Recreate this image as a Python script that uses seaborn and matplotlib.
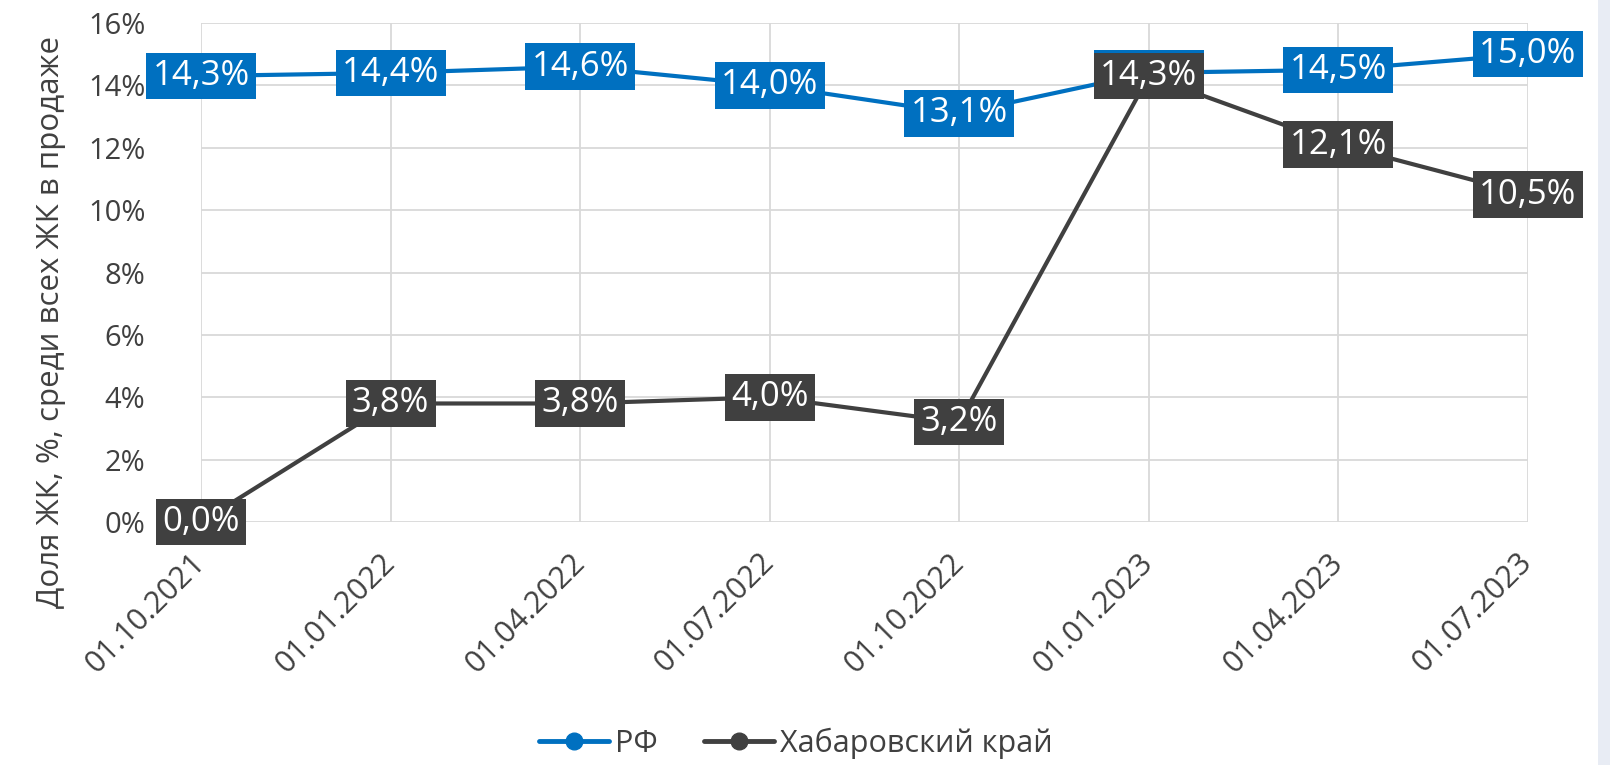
import matplotlib
matplotlib.use("Agg")
import matplotlib.pyplot as plt
from matplotlib.lines import Line2D
from matplotlib.patches import Rectangle
import seaborn as sns
import pandas as pd

dates = ["01.10.2021", "01.01.2022", "01.04.2022", "01.07.2022",
         "01.10.2022", "01.01.2023", "01.04.2023", "01.07.2023"]
rf_values = [14.3, 14.4, 14.6, 14.0, 13.1, 14.4, 14.5, 15.0]
khab_values = [0.0, 3.8, 3.8, 4.0, 3.2, 14.3, 12.1, 10.5]
series_names = ["РФ", "Хабаровский край"]
y_ticks = [0, 2, 4, 6, 8, 10, 12, 14, 16]
y_label = "Доля ЖК, %, среди всех ЖК в продаже"

colors = {"РФ": "#0070C0", "Хабаровский край": "#404040"}
text_color = "#404040"

df = pd.DataFrame({
    "date": dates * 2,
    "value": rf_values + khab_values,
    "series": [series_names[0]] * len(dates) + [series_names[1]] * len(dates),
})

sns.set_theme(style="white")
plt.rcParams["font.family"] = ["Open Sans", "DejaVu Sans"]

fig = plt.figure(figsize=(16.1, 7.65), dpi=100)
ax = fig.add_axes([201 / 1610, 1 - 522 / 765, (1528 - 201) / 1610, (522 - 23) / 765])

sns.lineplot(data=df, x="date", y="value", hue="series", palette=colors,
             sort=False, linewidth=3, ax=ax, legend=False, zorder=3)

ax.set_xlim(0, len(dates) - 1)
ax.set_ylim(0, 16)
ax.set_yticks(y_ticks)
ax.set_yticklabels([f"{t}%" for t in y_ticks])
ax.set_xticks(range(len(dates)))
ax.set_xticklabels(dates, rotation=45, ha="right", va="center", rotation_mode="anchor")

ax.grid(True, color="#D9D9D9", linewidth=1.3, zorder=0)
ax.set_axisbelow(True)
for s in ax.spines.values():
    s.set_visible(False)

ax.tick_params(axis="y", length=0, pad=40, labelsize=21, labelcolor=text_color)
ax.tick_params(axis="x", length=0, pad=26, labelsize=22, labelcolor=text_color)
ax.set_xlabel("")
ax.set_ylabel(y_label, fontsize=22.5, color=text_color)
ax.yaxis.set_label_coords(-0.1017, 0.40)

def fmt(v):
    return f"{v:.1f}%".replace(".", ",")

for name, vals, z in [(series_names[0], rf_values, 5), (series_names[1], khab_values, 6)]:
    for i, v in enumerate(vals):
        ax.text(i, v, fmt(v), ha="center", va="center", fontsize=25, color="white",
                zorder=z, clip_on=False,
                bbox=dict(boxstyle="square,pad=0.18", facecolor=colors[name],
                          edgecolor="none"))

handles = [Line2D([0], [0], color=colors[n], lw=3.5, marker="o", markersize=12)
           for n in series_names]
leg = ax.legend(handles, series_names, loc="center", bbox_to_anchor=(796 / 1610, 1 - 743 / 765),
                bbox_transform=fig.transFigure, ncol=2, frameon=False, fontsize=22,
                handlelength=2.3, columnspacing=1.5, handletextpad=0.2)
for t in leg.get_texts():
    t.set_color(text_color)

fig.patches.append(Rectangle((1598 / 1610, 0), 12 / 1610, 1, transform=fig.transFigure,
                             facecolor="#E8ECF4", edgecolor="none", zorder=-1))

fig.savefig("out.png", dpi=100)
